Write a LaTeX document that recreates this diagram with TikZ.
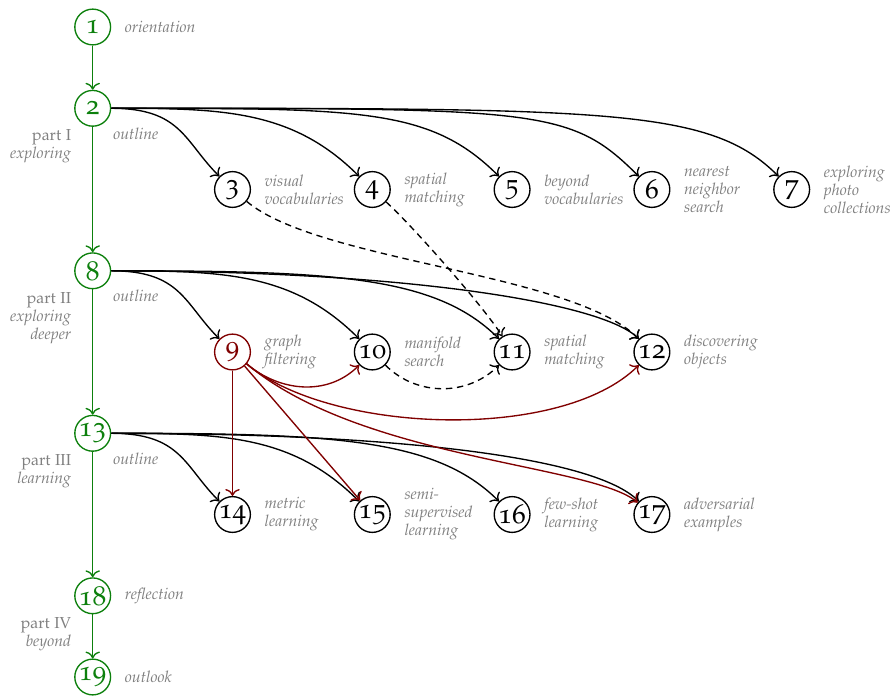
\documentclass[tikz,border=0pt]{standalone}
\usepackage[T1]{fontenc}
\usepackage[osf]{mathpazo}
\usetikzlibrary{arrows.meta}
\definecolor{pgreen}{rgb}{0.05,0.5,0.05}
\definecolor{pred}{rgb}{0.5,0,0}
\tikzset{
  num/.style={circle, draw, line width=0.85pt, minimum size=22.5pt, inner sep=0pt, font=\LARGE},
  mainnum/.style={num, draw=pgreen, text=pgreen},
  rednum/.style={num, draw=pred, text=pred},
  lbl/.style={text=black!50, font=\fontsize{10}{11.3}\selectfont\itshape, align=left, inner sep=0pt},
  rlbl/.style={lbl, anchor=west, xshift=8.4pt},
  olbl/.style={lbl, anchor=base west},
  partlbl/.style={text=black!50, font=\fontsize{10}{11.3}\selectfont, align=right, inner sep=0pt, anchor=north east},
  conn/.style={-{To[scale=1.25]}, line width=0.85pt},
  gconn/.style={conn, draw=pgreen},
  rconn/.style={conn, draw=pred},
  dconn/.style={conn, dash pattern=on 4pt off 3pt},
}
\begin{document}
\begin{tikzpicture}[x=0.629pt,y=0.629pt]
\useasboundingbox (0,0) rectangle (891,-698);
% main column
\node[mainnum] (n1)  at (92.7,-27)    {1};
\node[mainnum] (n2)  at (92.7,-108.3) {2};
\node[mainnum] (n8)  at (92.7,-270.8) {8};
\node[mainnum] (n13) at (92.7,-433.3) {13};
\node[mainnum] (n18) at (92.7,-595.8) {18};
\node[mainnum] (n19) at (92.7,-677)   {19};
% part I
\node[num] (n3) at (232.5,-189.5) {3};
\node[num] (n4) at (372.3,-189.5) {4};
\node[num] (n5) at (512.1,-189.5) {5};
\node[num] (n6) at (651.9,-189.5) {6};
\node[num] (n7) at (791.7,-189.5) {7};
% part II
\node[rednum] (n9) at (232.5,-352) {9};
\node[num] (n10) at (372.3,-352) {10};
\node[num] (n11) at (512.1,-352) {11};
\node[num] (n12) at (651.9,-352) {12};
% part III
\node[num] (n14) at (232.5,-514.5) {14};
\node[num] (n15) at (372.3,-514.5) {15};
\node[num] (n16) at (512.1,-514.5) {16};
\node[num] (n17) at (651.9,-514.5) {17};

% labels
\node[rlbl] (l1) at (n1.east) {orientation};
\node[rlbl] (l18) at (n18.east) {reflection};
\node[rlbl] (l19) at (n19.east) {outlook};
\node[olbl] (o2) at (113,-139.3) {outline};
\node[olbl] (o8) at (113,-301.8) {outline};
\node[olbl] (o13) at (113,-464.3) {outline};
\node[partlbl] (p1) at (71.5,-129.3) {part I\\\textit{exploring}};
\node[partlbl] (p2) at (71.5,-291.8) {part II\\\textit{exploring}\\\textit{deeper}};
\node[partlbl] (p3) at (71.5,-454.3) {part III\\\textit{learning}};
\node[partlbl] (p4) at (71.5,-616.8) {part IV\\\textit{beyond}};
\node[rlbl] (l3) at (n3.east) {visual\\vocabularies};
\node[rlbl] (l4) at (n4.east) {spatial\\matching};
\node[rlbl] (l5) at (n5.east) {beyond\\vocabularies};
\node[rlbl] (l6) at (n6.east) {nearest\\neighbor\\search};
\node[rlbl] (l7) at (n7.east) {exploring\\photo\\collections};
\node[rlbl] (l9) at (n9.east) {graph\\filtering};
\node[rlbl] (l10) at (n10.east) {manifold\\search};
\node[rlbl] (l11) at (n11.east) {spatial\\matching};
\node[rlbl] (l12) at (n12.east) {discovering\\objects};
\node[rlbl] (l14) at (n14.east) {metric\\learning};
\node[rlbl] (l15) at (n15.east) {semi-\\supervised\\learning};
\node[rlbl] (l16) at (n16.east) {few-shot\\learning};
\node[rlbl] (l17) at (n17.east) {adversarial\\examples};

% main column edges
\draw[gconn] (n1) -- (n2);
\draw[gconn] (n2) -- (n8);
\draw[gconn] (n8) -- (n13);
\draw[gconn] (n13) -- (n18);
\draw[gconn] (n18) -- (n19);

% outline edges
\draw[conn] (n2.east) .. controls +(0:70) and +(135:50) .. (n3.135);
\draw[conn] (n2.east) .. controls +(0:110) and +(135:95) .. (n4.135);
\draw[conn] (n2.east) .. controls +(0:250) and +(135:97) .. (n5.135);
\draw[conn] (n2.east) .. controls +(0:430) and +(135:97) .. (n6.135);
\draw[conn] (n2.east) .. controls +(0:500) and +(135:97) .. (n7.135);
\draw[conn] (n8.east) .. controls +(0:70) and +(135:50) .. (n9.135);
\draw[conn] (n8.east) .. controls +(0:110) and +(135:95) .. (n10.135);
\draw[conn] (n8.east) .. controls +(0:220) and +(135:90) .. (n11.135);
\draw[conn] (n8.east) .. controls +(0:300) and +(135:50) .. (n12.135);
\draw[conn] (n13.east) .. controls +(0:70) and +(135:50) .. (n14.135);
\draw[conn] (n13.east) .. controls +(0:110) and +(135:95) .. (n15.135);
\draw[conn] (n13.east) .. controls +(0:220) and +(135:90) .. (n16.135);
\draw[conn] (n13.east) .. controls +(0:300) and +(135:60) .. (n17.135);

% dashed dependencies
\draw[dconn] (n3) to[out=-40,in=135,looseness=0.58] (n12);
\draw[dconn] (n4) to[out=-42,in=122,looseness=0.5] (n11);
\draw[dconn] (n10) to[out=-45,in=-135] (n11);

% graph filtering dependencies
\draw[rconn] (n9) -- (n14);
\draw[rconn] (n9) -- (n15);
\draw[rconn] (n9) to[out=-40,in=-135] (n10);
\draw[rconn] (n9) to[out=-40,in=-135,looseness=0.71] (n12);
\draw[rconn] (n9) to[out=-40,in=140,out looseness=0.92,in looseness=0.37] (n17);
\end{tikzpicture}
\end{document}
